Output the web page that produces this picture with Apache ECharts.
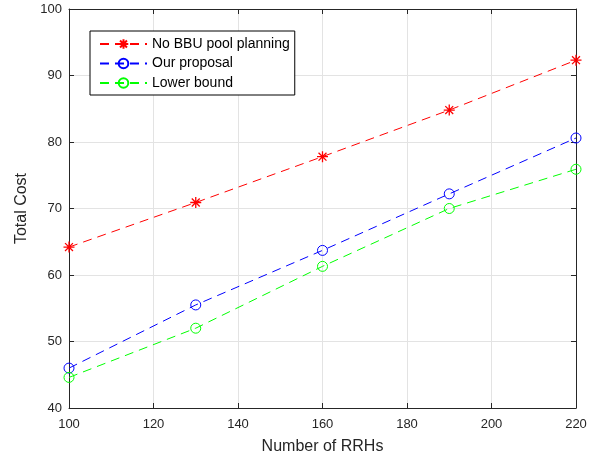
<!DOCTYPE html>
<html><head><meta charset="utf-8">
<script src="https://cdn.jsdelivr.net/npm/echarts@6/dist/echarts.min.js"></script>
<style>html,body{margin:0;padding:0;background:#fff}#c{width:600px;height:462px}</style>
</head><body><div id="c"></div>
<script>
const xValues = [100, 130, 160, 190, 220];
const noPool = [64.2, 70.9, 77.8, 84.8, 92.3];
const ourProposal = [46.0, 55.5, 63.7, 72.2, 80.6];
const lowerBound = [44.6, 52.0, 61.3, 70.0, 75.9];
const seriesNames = ['No BBU pool planning', 'Our proposal', 'Lower bound'];

const pair = arr => xValues.map((x, i) => [x, arr[i]]);
const font = 'Liberation Sans, Arial, sans-serif';
const axisCol = '#262626';
const star = 'path://M0,-5L0,5M-5,0L5,0M-3.6,-3.6L3.6,3.6M-3.6,3.6L3.6,-3.6';

const chart = echarts.init(document.getElementById('c'), null, {renderer: 'canvas'});
const mk = (name, data, color, symbol) => ({
  name, type: 'line', data: pair(data), symbol, symbolSize: symbol === star ? 11 : 10,
  showSymbol: true,
  lineStyle: {color, width: 1, type: [9, 6]},
  itemStyle: {color: symbol === star ? color : 'rgba(255,255,255,0)', borderColor: color, borderWidth: symbol === star ? 1.3 : 1},
  emphasis: {disabled: true}, animation: false, z: 5
});
const xCommon = {type: 'value', min: 100, max: 220, interval: 20};
const yCommon = {type: 'value', min: 40, max: 100, interval: 10};
chart.setOption({
  animation: false,
  grid: {left: 69, right: 24, top: 9, bottom: 54, containLabel: false},
  legend: {
    orient: 'vertical', left: 90, top: 31, padding: [6, 5, 5, 9], itemGap: 5.5,
    itemWidth: 47, itemHeight: 12, borderColor: '#000', borderWidth: 1, backgroundColor: '#fff',
    textStyle: {fontFamily: font, fontSize: 14, color: '#000'},
    data: seriesNames
  },
  xAxis: [
    Object.assign({}, xCommon, {
      position: 'bottom', name: 'Number of RRHs', nameLocation: 'middle', nameGap: 31,
      nameTextStyle: {fontFamily: font, fontSize: 16, color: axisCol},
      axisLine: {show: true, lineStyle: {color: axisCol, width: 1}},
      axisTick: {show: true, inside: true, length: 5, lineStyle: {color: axisCol}},
      axisLabel: {fontFamily: font, fontSize: 13, color: axisCol, margin: 10},
      splitLine: {show: true, lineStyle: {color: '#e3e3e3', width: 1}}
    }),
    Object.assign({}, xCommon, {
      position: 'top',
      axisLine: {show: true, lineStyle: {color: axisCol, width: 1}},
      axisTick: {show: true, inside: true, length: 5, lineStyle: {color: axisCol}},
      axisLabel: {show: false}, splitLine: {show: false}
    })
  ],
  yAxis: [
    Object.assign({}, yCommon, {
      position: 'left', name: 'Total Cost', nameLocation: 'middle', nameGap: 38,
      nameTextStyle: {fontFamily: font, fontSize: 16, color: axisCol},
      axisLine: {show: true, lineStyle: {color: axisCol, width: 1}},
      axisTick: {show: true, inside: true, length: 5, lineStyle: {color: axisCol}},
      axisLabel: {fontFamily: font, fontSize: 13, color: axisCol, margin: 7},
      splitLine: {show: true, lineStyle: {color: '#e3e3e3', width: 1}}
    }),
    Object.assign({}, yCommon, {
      position: 'right',
      axisLine: {show: true, lineStyle: {color: axisCol, width: 1}},
      axisTick: {show: true, inside: true, length: 5, lineStyle: {color: axisCol}},
      axisLabel: {show: false}, splitLine: {show: false}
    })
  ],
  series: [
    mk(seriesNames[0], noPool, '#ff0000', star),
    mk(seriesNames[1], ourProposal, '#0000ff', 'circle'),
    mk(seriesNames[2], lowerBound, '#00ff00', 'circle')
  ]
});
</script></body></html>
